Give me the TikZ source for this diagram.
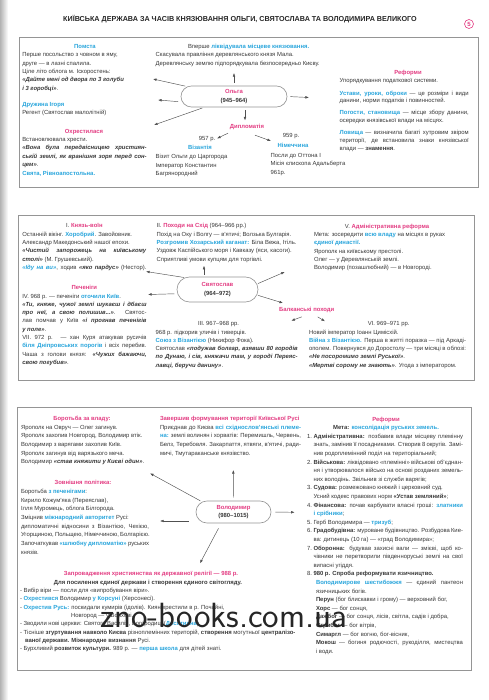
\documentclass[tikz,border=0pt]{standalone}
\usepackage{fontspec}
\setmainfont{Liberation Sans}
\usetikzlibrary{shapes.misc,arrows.meta,calc}
\definecolor{pk}{HTML}{E33C82}
\definecolor{bl}{HTML}{28A5DC}
\definecolor{tx}{HTML}{383838}
\definecolor{bx}{HTML}{959595}
\definecolor{ar}{HTML}{505050}
\newcommand\blu[1]{\textcolor{bl}{\textbf{#1}}}
\newcommand\pnk[1]{\textcolor{pk}{\textbf{#1}}}
\newcommand\bit[1]{\textbf{\textit{#1}}}
\newcommand\fs{\fontsize{5.9}{8.3}\selectfont}
\newcommand\J[2]{\makebox[#1pt][s]{#2}}
\begin{document}
\begin{tikzpicture}[x=1pt,y=-1pt,
 ln/.style={anchor=base west,inner sep=0pt,outer sep=0pt,font=\fs,text=tx},
 lc/.style={anchor=base,inner sep=0pt,outer sep=0pt,font=\fs,text=tx},
 frame/.style={draw=bx,line width=0.65pt},
 pn/.style={rounded rectangle,draw=bx,line width=0.65pt,inner sep=1pt,align=center,font=\fs\bfseries,text=tx},
 arr/.style={draw=ar,line width=0.45pt,-{Latex[length=3.6pt,width=2.6pt]}}]
\useasboundingbox (0,0) rectangle (488,700);
\fill[white] (0,0) rectangle (488,700);
\shade[left color=black!30,right color=white] (0,0) rectangle (8,700);

% title
\node[anchor=base west,inner sep=0pt,font=\fontsize{7.2}{8}\selectfont\bfseries,text=black!85] (title) at (63,21.5) {КИЇВСЬКА ДЕРЖАВА ЗА ЧАСІВ КНЯЗЮВАННЯ ОЛЬГИ, СВЯТОСЛАВА ТА ВОЛОДИМИРА ВЕЛИКОГО};
\node[circle,draw=pk,line width=0.6pt,inner sep=0.5pt,minimum size=9pt,font=\fontsize{6}{6}\selectfont\bfseries,text=pk] (pg) at (469,24) {5};

%================ BOX 1: OLGA
\draw[frame] (19,37.5) rectangle (478,187);
\node[lc] (o1) at (85,48.7) {\blu{Помста}};
\node[ln] (o2) at (22.3,57) {Перше посольство з човном в яму,};
\node[ln] (o3) at (22.3,65.3) {друге — в лазні спалила.};
\node[ln] (o4) at (22.3,73.6) {Ціле літо облога м. Іскоростень:};
\node[ln] (o5) at (22.3,81.9) {\bit{«Дайте мені од двора по 3 голуби}};
\node[ln] (o6) at (22.3,90.2) {\bit{і 3 горобці»}.};
\node[ln] (o7) at (22.3,106.5) {\blu{Дружина Ігоря}};
\node[ln] (o8) at (22.3,114.8) {Регент (Святослав малолітній)};
\node[lc] (o9) at (84,133.5) {\pnk{Охрестилася}};
\node[ln] (o10) at (22.3,141.5) {Встановлювала хрести.};
\node[ln] (o11) at (22.3,150) {\J{124.4}{\bit{«Вона була передвісницею християн-}}};
\node[ln] (o12) at (22.3,158.5) {\J{124.4}{\bit{ській землі, як вранішня зоря перед сон-}}};
\node[ln] (o13) at (22.3,167) {\bit{цем»}.};
\node[ln] (o14) at (22.3,175.5) {\blu{Свята, Рівноапостольна.}};

\node[ln] (o15) at (188,48.5) {Вперше \blu{ліквідувала місцеве князювання.}};
\node[ln] (o16) at (155.7,56.8) {Скасувала правління деревлянського князя Мала.};
\node[ln] (o17) at (155.7,65.1) {Деревлянську землю підпорядкувала безпосередньо Києву.};

\node[pn,minimum width=108pt,minimum height=21pt] (olga) at (234,96.5) {\textcolor{pk}{Ольга}\\(945–964)};
\coordinate (oa1) at (153,79);
\coordinate (oa2) at (158,100);
\coordinate (oa3) at (154,125);
\coordinate (oa4) at (309,97.5);
\coordinate (oa5) at (245,120.5);
\coordinate (oa6) at (234,73);
\draw[arr,shorten <=2pt] (olga.168) -- (oa1);
\draw[arr,shorten <=4pt] (olga.186) -- (oa2);
\draw[arr,shorten <=2pt] (olga.200) -- (oa3);
\draw[arr,shorten <=3pt] (olga.east) -- (oa4);
\draw[arr,shorten <=3pt] (oa5 |- olga.south) -- (oa5);
\draw[arr,shorten <=3pt] (olga.north) -- (oa6);

\node[lc] (dip) at (247,129) {\pnk{Дипломатія}};
\coordinate (da1) at (217,138.5);
\coordinate (da2) at (271,141);
\draw[arr] ($(dip.south)+(-19,3)$) -- (da1);
\draw[arr] ($(dip.south)+(8,5)$) -- (da2);

\node[lc] (v1) at (207,141) {957 р.};
\node[lc] (v2) at (200,149.7) {\blu{Візантія}};
\node[ln] (v3) at (155.7,158.7) {Візит Ольги до Царгорода};
\node[ln] (v4) at (155.7,167.3) {Імператор Константин};
\node[ln] (v5) at (155.7,176) {Багрянородний};

\node[lc] (n1) at (291,138) {959 р.};
\node[lc] (n2) at (293,147.7) {\blu{Німеччина}};
\node[ln] (n3) at (270.7,157.3) {Посли до Оттона І};
\node[ln] (n4) at (270.7,166) {Місія єпископа Адальберта};
\node[ln] (n5) at (270.7,174.7) {961р.};

\node[lc] (r1) at (408,74.7) {\pnk{Реформи}};
\node[ln] (r2) at (339.7,83) {Упорядкування податкової системи.};
\node[ln] (r3) at (339.7,95.3) {\J{129}{\blu{Устави, уроки, оброки} — це розміри і види}};
\node[ln] (r4) at (339.7,103) {данини, норми податків і повинностей.};
\node[ln] (r5) at (339.7,114.7) {\J{129}{\blu{Погости, становища} — місце збору данини,}};
\node[ln] (r6) at (339.7,122.7) {осередки князівської влади на місцях.};
\node[ln] (r7) at (339.7,134.7) {\J{129}{\blu{Ловища} — визначила багаті хутровим звіром}};
\node[ln] (r8) at (339.7,142.7) {\J{129}{території, де встановила знаки князівської}};
\node[ln] (r9) at (339.7,150.7) {влади — \textbf{знамення}.};

%================ BOX 2: SVYATOSLAV
\draw[frame] (18,215) rectangle (474,380);
\node[lc] (s1) at (84.4,228) {І. \pnk{Князь-воїн}};
\node[ln] (s2) at (22.3,236.3) {Останній вікінг. \blu{Хоробрий}. Завойовник.};
\node[ln] (s3) at (22.3,244.6) {Александр Македонський нашої епохи.};
\node[ln] (s4) at (22.3,252.9) {\J{124.2}{\bit{«Чистий запорожець на київському}}};
\node[ln] (s5) at (22.3,261.2) {\bit{столі»} (М. Грушевський).};
\node[ln] (s6) at (22.3,269.5) {\J{124.2}{\textcolor{bl}{\bit{«Іду на ви»}}, ходив \bit{«яко пардус»} (Нестор).}};
\node[lc] (s7) at (84.4,289) {\pnk{Печеніги}};
\node[ln] (s8) at (22.3,298) {IV. 968 р. — печеніги \blu{оточили Київ}.};
\node[ln] (s9) at (22.3,306.3) {\J{124.2}{\bit{«Ти, княже, чужої землі шукаєш і дбаєш}}};
\node[ln] (s10) at (22.3,314.6) {\J{124.2}{\bit{про неї, а свою полишив...»}. Святос-}};
\node[ln] (s11) at (22.3,322.9) {\J{124.2}{лав помчав у Київ \bit{«і прогнав печенігів}}};
\node[ln] (s12) at (22.3,331.2) {\bit{у поле»}.};
\node[ln] (s13) at (22.3,339.5) {\J{124.2}{VII. 972 р. — хан Куря атакував русичів}};
\node[ln] (s14) at (22.3,347.8) {\J{124.2}{\blu{біля Дніпровських порогів} і всіх перебив.}};
\node[ln] (s15) at (22.3,356.1) {\J{124.2}{Чаша з голови князя: \bit{«Чужих бажаючи,}}};
\node[ln] (s16) at (22.3,364.4) {\bit{свою погубив»}.};

\node[ln] (s17) at (156.7,228) {II. \pnk{Походи на Схід} (964–966 рр.)};
\node[ln] (s18) at (156.7,236.3) {Похід на Оку і Волгу — в'ятичі; Волзька Булгарія.};
\node[ln] (s19) at (156.7,244.6) {\blu{Розгромив Хозарський каганат:} Біла Вежа, Ітіль.};
\node[ln] (s20) at (156.7,252.9) {Уздовж Каспійського моря і Кавказу (яси, касоги).};
\node[ln] (s21) at (156.7,261.2) {Сприятливі умови купцям для торгівлі.};

\node[pn,minimum width=83pt,minimum height=25pt] (svyat) at (217.5,289.5) {\textcolor{pk}{Святослав}\\(964–972)};
\coordinate (sa1) at (204,265.7);
\coordinate (sa2) at (146,271.5);
\coordinate (sa3) at (148,294.5);
\coordinate (sa4) at (284.7,272);
\coordinate (sa5) at (283,303);
\draw[arr,shorten <=2pt] (sa1 |- svyat.north) -- (sa1);
\draw[arr,shorten <=1pt] (svyat.160) -- (sa2);
\draw[arr,shorten <=3pt] (svyat.186) -- (sa3);
\draw[arr,shorten <=1pt] (svyat.8) -- (sa4);
\draw[arr,shorten <=1pt] (svyat.-8) -- (sa5);

\node[lc] (balk) at (306.7,311.7) {\pnk{Балканські походи}};
\coordinate (ba1) at (291.3,320.7);
\coordinate (ba2) at (325,321.3);
\draw[arr] ($(balk.south)+(-5,4)$) -- (ba1);
\draw[arr] ($(balk.south)+(11,4)$) -- (ba2);

\node[ln] (s22) at (198,325.7) {III. 967–968 рр.};
\node[ln] (s23) at (155.7,334) {968 р. підкорив уличів і тиверців.};
\node[ln] (s24) at (155.7,342.3) {\blu{Союз з Візантією} (Никифор Фока).};
\node[ln] (s25) at (155.7,350.6) {\J{142}{Святослав \bit{«подужав болгар, взявши 80 городів}}};
\node[ln] (s26) at (155.7,358.9) {\J{142}{\bit{по Дунаю, і сів, княжачи там, у городі Переяс-}}};
\node[ln] (s27) at (155.7,367.2) {\bit{лавці, беручи данину»}.};

\node[lc] (s28) at (387,228.3) {V. \pnk{Адміністративна реформа}};
\node[ln] (s29) at (314,236.6) {Мета: зосередити \blu{всю владу} на місцях в руках};
\node[ln] (s30) at (314,244.9) {\blu{єдиної династії.}};
\node[ln] (s31) at (314,253.2) {Ярополк на київському престолі.};
\node[ln] (s32) at (314,261.5) {Олег — у Деревлянській землі.};
\node[ln] (s33) at (314,269.8) {Володимир (позашлюбний) — в Новгороді.};

\node[lc] (s34) at (388.7,325.7) {VI. 969–971 рр.};
\node[ln] (s35) at (309,334) {Новий імператор Іоанн Цимісхій.};
\node[ln] (s36) at (309,342.3) {\J{157}{\blu{Війна з Візантією.} Перша в житті поразка — під Аркаді-}};
\node[ln] (s37) at (309,350.6) {\J{157}{ополем. Повернувся до Доростолу — три місяці в облозі:}};
\node[ln] (s38) at (309,358.9) {\bit{«Не посоромимо землі Руської»}.};
\node[ln] (s39) at (309,367.2) {\bit{«Мертві сорому не знають»}. Угода з імператором.};

%================ BOX 3: VOLODYMYR
\draw[frame] (17,407) rectangle (471,670);
\node[lc] (w1) at (82,420.3) {\pnk{Боротьба за владу:}};
\node[ln] (w2) at (21,429) {Ярополк на Овруч — Олег загинув.};
\node[ln] (w3) at (21,437.7) {Ярополк захопив Новгород, Володимир втік.};
\node[ln] (w4) at (21,446.4) {Володимир з варягами захопив Київ.};
\node[ln] (w5) at (21,455.1) {Ярополк загинув від варязького меча.};
\node[ln] (w6) at (21,463.8) {Володимир \bit{«став княжити у Києві один»}.};
\node[lc] (w7) at (83,484.7) {\pnk{Зовнішня політика:}};
\node[ln] (w8) at (21,493.4) {Боротьба \blu{з печенігами}:};
\node[ln] (w9) at (21,502.1) {Кирило Кожум'яка (Переяслав),};
\node[ln] (w10) at (21,510.8) {Ілля Муромець, облога Білгорода.};
\node[ln] (w11) at (21,519.5) {Зміцнив \blu{міжнародний авторитет} Русі:};
\node[ln] (w12) at (21,528.2) {\J{128}{дипломатичні відносини з Візантією, Чехією,}};
\node[ln] (w13) at (21,536.9) {\J{128}{Угорщиною, Польщею, Німеччиною, Болгарією.}};
\node[ln] (w14) at (21,545.6) {\J{128}{Започаткував \blu{«шлюбну дипломатію»} руських}};
\node[ln] (w15) at (21,554.3) {князів.};

\node[ln] (w16) at (160,420.3) {\pnk{Завершив формування території Київської Русі}};
\node[ln] (w17) at (160,429) {\J{141}{Приєднав до Києва \blu{всі східнослов'янські племе-}}};
\node[ln] (w18) at (160,437.7) {\J{141}{\blu{на:} землі волинян і хорватів: Перемишль, Червень,}};
\node[ln] (w19) at (160,446.4) {\J{141}{Белз, Теребовля. Закарпаття, ятвяги, в'ятичі, ради-}};
\node[ln] (w20) at (160,455.1) {мичі, Тмутараканське князівство.};

\node[pn,minimum width=77pt,minimum height=22pt] (volod) at (233.5,512) {\textcolor{pk}{Володимир}\\(980–1015)};
\coordinate (va1) at (150,473.3);
\coordinate (va2) at (233.3,470);
\coordinate (va3) at (160,521);
\coordinate (va4) at (294.7,512.3);
\coordinate (va5) at (200,563.3);
\draw[arr,shorten <=2pt] (volod.162) -- (va1);
\draw[arr,shorten <=3pt] (volod.north) -- (va2);
\draw[arr,shorten <=7pt] (volod.west |- va3) -- (va3);
\draw[arr,shorten <=4pt] (volod.east) -- (va4);
\draw[arr] ($(volod.south)+(-15,5)$) -- (va5);

\node[lc] (c1) at (151,575.3) {\pnk{Запровадження християнства як державної релігії — 988 р.}};
\node[lc] (c2) at (148,584.3) {\textbf{Для посилення єдиної держави і створення єдиного світогляду.}};
\node[ln] (c3) at (20,592.6) {- Вибір віри — посли для «випробування віри».};
\node[ln] (c4) at (20,600.9) {- \blu{Охрестився} Володимир \blu{у Корсуні} (Херсонесі).};
\node[ln] (c5) at (20,609.2) {- \blu{Охрестив Русь:} поскидали кумирів (ідолів). Киян хрестили в р. Почайні,};
\node[ln] (c6) at (71,617.5) {Новгород — у Волхові.};
\node[ln] (c7) at (20,625.8) {- Зводили нові церкви: Святого Василія, Богородиці (\blu{Десятинна}).};
\node[ln] (c8) at (20,634.1) {- Тісніше \textbf{згуртування навколо Києва} різноплемінних територій, \textbf{створення} могутньої \textbf{централізо-}};
\node[ln] (c9) at (25,642.4) {\textbf{ваної держави. Міжнародне визнання} Русі.};
\node[ln] (c10) at (20,650.7) {- Бурхливий \textbf{розвиток культури.} 989 р. — \blu{перша школа} для дітей знаті.};

\node[lc] (f1) at (386,421) {\pnk{Реформи}};
\node[lc] (f2) at (386,429.6) {\textbf{Мета: \textcolor{bl}{консолідація руських земель.}}};
\node[ln] (f3n) at (307,438.2) {1.};
\node[ln] (f3) at (313.5,438.2) {\J{149.5}{\textbf{Адміністративна:} позбавив влади місцеву племінну}};
\node[ln] (f4) at (313.5,446.8) {\J{149.5}{знать, замінив її посадниками. Створив 8 округів. Замі-}};
\node[ln] (f5) at (313.5,455.4) {нив родоплемінний поділ на територіальний;};
\node[ln] (f6n) at (307,464) {2.};
\node[ln] (f6) at (313.5,464) {\J{149.5}{\textbf{Військова:} ліквідовано «племінні» військові об'єднан-}};
\node[ln] (f7) at (313.5,472.6) {\J{149.5}{ня і утворювалося військо на основі розданих земель-}};
\node[ln] (f8) at (313.5,481.2) {них володінь. Звільнив зі служби варягів;};
\node[ln] (f9n) at (307,489.8) {3.};
\node[ln] (f9) at (313.5,489.8) {\textbf{Судова:} розмежовано княжий і церковний суд.};
\node[ln] (f10) at (313.5,498.4) {Усний кодекс правових норм \textbf{«Устав земляний»};};
\node[ln] (f11n) at (307,507) {4.};
\node[ln] (f11) at (313.5,507) {\J{149.5}{\textbf{Фінансова:} почав карбувати власні гроші: \blu{златники}}};
\node[ln] (f12) at (313.5,515.6) {\blu{і срібники};};
\node[ln] (f13n) at (307,524.2) {5.};
\node[ln] (f13) at (313.5,524.2) {Герб Володимира — \blu{тризуб};};
\node[ln] (f14n) at (307,532.8) {6.};
\node[ln] (f14) at (313.5,532.8) {\J{149.5}{\textbf{Градобудівна:} муроване будівництво. Розбудова Кие-}};
\node[ln] (f15) at (313.5,541.4) {ва: дитинець (10 га) — «град Володимира»;};
\node[ln] (f16n) at (307,550) {7.};
\node[ln] (f16) at (313.5,550) {\J{149.5}{\textbf{Оборонна:} будував захисні вали — змієві, щоб ко-}};
\node[ln] (f17) at (313.5,558.6) {\J{149.5}{чівники не перетворили південноруські землі на свої}};
\node[ln] (f18) at (313.5,567.2) {випасні угіддя.};
\node[ln] (f19n) at (307,575.8) {8.};
\node[ln] (f19) at (313.5,575.8) {\textbf{980 р. Спроба реформувати язичництво.}};
\node[ln] (f20) at (316,584.4) {\J{147}{\blu{Володимирове шестибожжя} — єдиний пантеон}};
\node[ln] (f21) at (316,593) {язичницьких богів.};
\node[ln] (f22) at (316,601.6) {\textbf{Перун} (бог блискавки і грому) — верховний бог,};
\node[ln] (f23) at (316,610.2) {\textbf{Хорс} — бог сонця,};
\node[ln] (f24) at (316,618.8) {\textbf{Дажбог} — бог сонця, лісів, світла, садів і добра,};
\node[ln] (f25) at (316,627.4) {\textbf{Стрибог} — бог вітрів,};
\node[ln] (f26) at (316,636) {\textbf{Симаргл} — бог вогню, бог-вісник,};
\node[ln] (f27) at (316,644.6) {\J{147}{\textbf{Мокош} — богиня родючості, рукоділля, мистецтва}};
\node[ln] (f28) at (316,653.2) {і води.};

% watermark
\node[anchor=base west,inner sep=0pt,font=\sffamily\fontsize{35}{35}\selectfont,text=black!85] (wm) at (100,627) {zno-books.com.ua};
\end{tikzpicture}
\end{document}
